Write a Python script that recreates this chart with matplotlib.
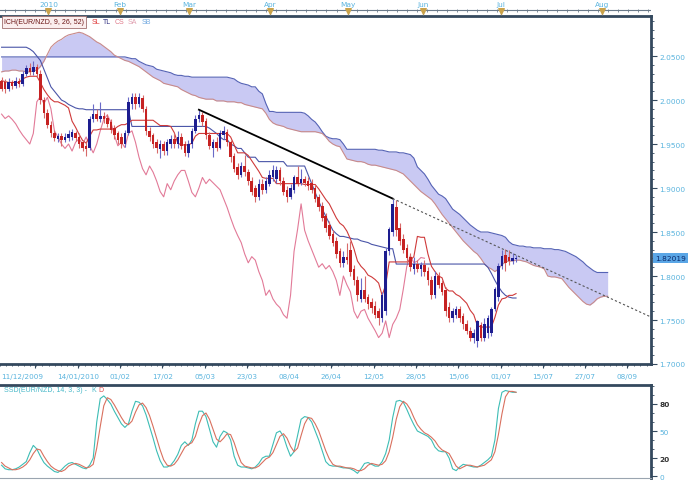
import numpy as np
import matplotlib.pyplot as plt
from matplotlib.ticker import MultipleLocator, FormatStrFormatter

# ---- daily EUR/NZD candles (bar 0 = left edge) ----
opens = [2.022, 2.020, 2.013, 2.020, 2.016, 2.022, 2.018, 2.030, 2.036, 2.032,
         2.038, 2.030, 2.000, 1.985, 1.972, 1.962, 1.956, 1.959, 1.955, 1.957,
         1.958, 1.962, 1.958, 1.952, 1.948, 1.945, 1.978, 1.984, 1.978, 1.982,
         1.980, 1.975, 1.968, 1.962, 1.958, 1.950, 1.962, 1.995, 2.004, 1.996,
         2.002, 1.990, 1.965, 1.960, 1.952, 1.944, 1.950, 1.942, 1.950, 1.956,
         1.950, 1.958, 1.950, 1.940, 1.950, 1.965, 1.978, 1.983, 1.976, 1.960,
         1.946, 1.952, 1.946, 1.960, 1.964, 1.952, 1.936, 1.924, 1.915, 1.925,
         1.918, 1.908, 1.900, 1.890, 1.905, 1.898, 1.905, 1.912, 1.910, 1.920,
         1.908, 1.898, 1.890, 1.898, 1.912, 1.906, 1.910, 1.908, 1.906, 1.900,
         1.890, 1.880, 1.868, 1.858, 1.848, 1.840, 1.828, 1.815, 1.822, 1.830,
         1.808, 1.796, 1.774, 1.784, 1.776, 1.770, 1.766, 1.760, 1.752, 1.760,
         1.828, 1.850, 1.878, 1.855, 1.842, 1.832, 1.822, 1.808, 1.814, 1.808,
         1.812, 1.806, 1.796, 1.778, 1.800, 1.792, 1.784, 1.765, 1.752, 1.756,
         1.762, 1.755, 1.746, 1.738, 1.730, 1.726, 1.744, 1.730, 1.735, 1.735,
         1.762, 1.776, 1.811, 1.824, 1.822, 1.817, 1.819]
highs = [2.026, 2.024, 2.025, 2.023, 2.026, 2.025, 2.033, 2.040, 2.042, 2.044,
         2.041, 2.034, 2.003, 1.990, 1.976, 1.966, 1.962, 1.963, 1.963, 1.966,
         1.967, 1.965, 1.962, 1.955, 1.952, 1.982, 1.996, 1.990, 1.998, 1.986,
         1.984, 1.978, 1.972, 1.965, 1.962, 1.966, 2.003, 2.008, 2.008, 2.008,
         2.006, 1.993, 1.969, 1.963, 1.956, 1.955, 1.954, 1.956, 1.960, 1.963,
         1.965, 1.962, 1.954, 1.955, 1.968, 1.983, 1.989, 1.986, 1.980, 1.964,
         1.956, 1.958, 1.966, 1.970, 1.967, 1.955, 1.940, 1.928, 1.930, 1.938,
         1.922, 1.912, 1.904, 1.910, 1.910, 1.912, 1.920, 1.926, 1.925, 1.924,
         1.912, 1.902, 1.905, 1.915, 1.925, 1.922, 1.914, 1.912, 1.910, 1.904,
         1.893, 1.884, 1.872, 1.862, 1.852, 1.844, 1.832, 1.828, 1.838, 1.840,
         1.812, 1.800, 1.798, 1.800, 1.780, 1.775, 1.772, 1.764, 1.782, 1.832,
         1.856, 1.888, 1.886, 1.860, 1.848, 1.836, 1.826, 1.822, 1.818, 1.816,
         1.818, 1.810, 1.800, 1.806, 1.805, 1.796, 1.788, 1.770, 1.764, 1.766,
         1.766, 1.758, 1.750, 1.742, 1.740, 1.750, 1.748, 1.752, 1.756, 1.765,
         1.788, 1.815, 1.830, 1.831, 1.830, 1.826, 1.824]
lows = [2.010, 2.008, 2.010, 2.012, 2.014, 2.015, 2.016, 2.027, 2.028, 2.029,
        2.026, 1.995, 1.980, 1.968, 1.958, 1.953, 1.952, 1.948, 1.952, 1.954,
        1.955, 1.953, 1.946, 1.942, 1.936, 1.943, 1.975, 1.976, 1.975, 1.974,
        1.969, 1.962, 1.956, 1.950, 1.946, 1.947, 1.960, 1.990, 1.990, 1.992,
        1.986, 1.960, 1.953, 1.946, 1.940, 1.934, 1.938, 1.938, 1.946, 1.946,
        1.946, 1.944, 1.936, 1.935, 1.946, 1.962, 1.975, 1.970, 1.956, 1.944,
        1.935, 1.942, 1.944, 1.956, 1.948, 1.930, 1.918, 1.910, 1.912, 1.914,
        1.904, 1.892, 1.884, 1.886, 1.893, 1.894, 1.902, 1.908, 1.906, 1.904,
        1.892, 1.884, 1.887, 1.894, 1.902, 1.903, 1.902, 1.898, 1.894, 1.884,
        1.874, 1.862, 1.850, 1.842, 1.834, 1.820, 1.810, 1.810, 1.814, 1.800,
        1.790, 1.772, 1.770, 1.770, 1.762, 1.758, 1.752, 1.744, 1.748, 1.756,
        1.824, 1.846, 1.846, 1.835, 1.826, 1.815, 1.806, 1.802, 1.804, 1.800,
        1.800, 1.790, 1.774, 1.775, 1.786, 1.778, 1.755, 1.748, 1.748, 1.752,
        1.748, 1.740, 1.734, 1.726, 1.724, 1.719, 1.726, 1.726, 1.730, 1.732,
        1.760, 1.772, 1.808, 1.806, 1.812, 1.814, 1.816]
closes = [2.013, 2.012, 2.020, 2.016, 2.022, 2.018, 2.030, 2.036, 2.032, 2.038,
          2.030, 2.000, 1.985, 1.972, 1.962, 1.957, 1.959, 1.955, 1.958, 1.961,
          1.964, 1.957, 1.950, 1.946, 1.944, 1.978, 1.984, 1.979, 1.982, 1.978,
          1.973, 1.966, 1.960, 1.955, 1.950, 1.962, 1.998, 2.004, 1.996, 2.003,
          1.990, 1.965, 1.958, 1.950, 1.945, 1.950, 1.942, 1.952, 1.956, 1.950,
          1.958, 1.948, 1.940, 1.950, 1.965, 1.978, 1.983, 1.975, 1.960, 1.948,
          1.952, 1.946, 1.962, 1.965, 1.952, 1.935, 1.922, 1.915, 1.925, 1.918,
          1.908, 1.896, 1.890, 1.905, 1.898, 1.908, 1.915, 1.920, 1.920, 1.908,
          1.895, 1.890, 1.900, 1.912, 1.905, 1.910, 1.906, 1.902, 1.898, 1.888,
          1.878, 1.866, 1.855, 1.846, 1.838, 1.825, 1.815, 1.822, 1.818, 1.805,
          1.795, 1.778, 1.784, 1.774, 1.768, 1.764, 1.756, 1.752, 1.778, 1.828,
          1.853, 1.882, 1.852, 1.840, 1.830, 1.820, 1.810, 1.814, 1.808, 1.812,
          1.805, 1.795, 1.778, 1.800, 1.790, 1.782, 1.760, 1.752, 1.760, 1.762,
          1.752, 1.745, 1.738, 1.730, 1.735, 1.749, 1.730, 1.745, 1.752, 1.762,
          1.785, 1.811, 1.823, 1.815, 1.817, 1.821, 1.8202]

# ---- Ichimoku lines ----
tenkan = [2.022, 2.021, 2.020, 2.020, 2.020, 2.020, 2.024, 2.026, 2.027, 2.027, 2.027,
          2.020, 2.012, 2.006, 2.001, 1.998, 1.998, 1.996, 1.994, 1.991, 1.976,
          1.969, 1.961, 1.954, 1.951, 1.959, 1.966, 1.966, 1.967, 1.967, 1.967,
          1.967, 1.967, 1.970, 1.972, 1.972, 1.974, 1.977, 1.977, 1.977, 1.977,
          1.977, 1.977, 1.977, 1.974, 1.971, 1.971, 1.971, 1.970, 1.963, 1.951,
          1.949, 1.949, 1.949, 1.951, 1.959, 1.962, 1.962, 1.962, 1.962, 1.962,
          1.962, 1.962, 1.962, 1.962, 1.958, 1.949, 1.940, 1.940, 1.940, 1.937,
          1.931, 1.925, 1.919, 1.912, 1.911, 1.911, 1.911, 1.905, 1.905, 1.905,
          1.905, 1.905, 1.905, 1.905, 1.905, 1.904, 1.904, 1.904, 1.904, 1.899,
          1.893, 1.887, 1.882, 1.874, 1.866, 1.860, 1.857, 1.851, 1.842, 1.831,
          1.817, 1.811, 1.807, 1.801, 1.799, 1.796, 1.792, 1.778, 1.790, 1.816,
          1.816, 1.816, 1.816, 1.816, 1.816, 1.818, 1.822, 1.845, 1.844, 1.844,
          1.825, 1.811, 1.805, 1.800, 1.798, 1.786, 1.783, 1.783, 1.779, 1.777,
          1.773, 1.769, 1.761, 1.756, 1.744, 1.742, 1.742, 1.742, 1.742, 1.753,
          1.767, 1.774, 1.775, 1.778, 1.778, 1.780]
kijun = ([2.060] * 8 +
         [2.058, 2.055, 2.050, 2.045, 2.035, 2.025, 2.015, 2.010, 2.005, 2.000,
          1.998, 1.995, 1.993, 1.991, 1.990, 1.990, 1.989] +
         [1.989] * 12 + [1.970] * 22 +
         [1.968, 1.965, 1.962, 1.958, 1.955, 1.955] +
         [1.950, 1.948, 1.945, 1.945, 1.940, 1.935, 1.935, 1.935] +
         [1.930] * 8 + [1.925] * 6 +
         [1.915, 1.905, 1.895, 1.885, 1.876, 1.868, 1.860, 1.852, 1.848, 1.845] +
         [1.845, 1.844, 1.843, 1.842, 1.842, 1.840, 1.839, 1.838, 1.836, 1.835,
          1.834, 1.833, 1.832, 1.831, 1.831] +
         [1.8136] * 26 +
         [1.810, 1.803, 1.795, 1.788, 1.782, 1.778, 1.776, 1.775, 1.775])
# cloud, plotted 26 bars ahead of the last candle
senkou_a = [2.032, 2.033, 2.033, 2.034, 2.034, 2.033, 2.033, 2.032, 2.032, 2.033,
            2.034, 2.038, 2.044,
            2.052, 2.060, 2.064, 2.067, 2.069, 2.072, 2.074, 2.075, 2.076, 2.077,
            2.076, 2.074, 2.072, 2.069, 2.066, 2.064, 2.061, 2.058, 2.055, 2.051, 2.049,
            2.047, 2.045, 2.044, 2.042, 2.040, 2.038, 2.035, 2.032, 2.029, 2.026,
            2.024, 2.022, 2.019, 2.018, 2.017, 2.016, 2.015, 2.012, 2.010, 2.008,
            2.006, 2.005, 2.003, 2.002, 2.001, 2.001, 2.001, 1.999, 1.999, 1.999, 1.998,
            1.998, 1.998, 1.997, 1.997, 1.995, 1.994, 1.993, 1.992, 1.991, 1.990,
            1.985, 1.978, 1.974, 1.972, 1.971, 1.970, 1.968, 1.967, 1.966, 1.965, 1.964,
            1.964, 1.964, 1.964, 1.964, 1.963, 1.962, 1.958, 1.953, 1.950, 1.948, 1.947,
            1.940, 1.933, 1.932, 1.931, 1.930, 1.930, 1.929, 1.927, 1.926, 1.926,
            1.925, 1.924, 1.923, 1.922, 1.921, 1.920, 1.918, 1.916, 1.912, 1.908,
            1.904, 1.900, 1.896, 1.893, 1.890, 1.887, 1.882, 1.876, 1.870, 1.865,
            1.860, 1.855, 1.850, 1.845, 1.840, 1.836, 1.832, 1.828, 1.825, 1.820,
            1.814, 1.810, 1.808, 1.805, 1.808, 1.813, 1.816, 1.817, 1.817, 1.818,
            1.818, 1.817, 1.816, 1.814, 1.812, 1.811, 1.810, 1.808, 1.800, 1.799,
            1.799, 1.798, 1.797, 1.792, 1.787, 1.783, 1.779, 1.775, 1.771, 1.768,
            1.767, 1.770, 1.774, 1.776, 1.777, 1.777]
senkou_b = ([2.049] * 36 +
            [2.048, 2.047, 2.047, 2.044, 2.042, 2.040, 2.039, 2.038, 2.035, 2.034,
             2.033, 2.032, 2.031, 2.029, 2.028, 2.028, 2.027, 2.027] +
            [2.026] * 11 +
            [2.025, 2.024, 2.021, 2.019, 2.018, 2.017, 2.015, 2.015, 2.010, 2.007,
             1.996, 1.987, 1.987] +
            [1.986] * 8 +
            [1.985, 1.982, 1.978, 1.975, 1.970, 1.964, 1.959, 1.957, 1.956, 1.956,
             1.955, 1.950] +
            [1.944] * 9 +
            [1.943, 1.943, 1.942, 1.941, 1.941, 1.941, 1.940, 1.940, 1.939, 1.938,
             1.934, 1.924, 1.920, 1.916, 1.910, 1.903, 1.898, 1.893, 1.891, 1.888,
             1.882, 1.876, 1.873, 1.870, 1.866, 1.862, 1.858, 1.855, 1.852, 1.850,
             1.850, 1.850, 1.849, 1.848, 1.847, 1.846, 1.844, 1.839, 1.836, 1.835,
             1.834, 1.834, 1.833, 1.833, 1.832, 1.832, 1.832, 1.831, 1.831, 1.831,
             1.830, 1.830, 1.829, 1.828, 1.826, 1.824, 1.822, 1.819, 1.816, 1.812,
             1.809, 1.806, 1.804, 1.804, 1.804, 1.804])

# trend line drawn on the chart (bar, price)
trend_x = [56, 111]
trend_y = [1.989, 1.888]

# ---- slow stochastic (14, 3, 3) ----
stoch_k = [12, 8, 7, 7, 8, 10, 13, 16, 26, 34,
           30, 22, 15, 11, 8, 5, 4, 7, 11, 14,
           15, 13, 11, 9, 8, 12, 20, 60, 86, 89,
           85, 80, 72, 65, 58, 54, 58, 72, 83, 82,
           78, 68, 55, 42, 28, 17, 10, 10, 12, 17,
           24, 34, 38, 34, 40, 58, 72, 72, 66, 52,
           38, 32, 44, 50, 48, 40, 22, 12, 10, 10,
           9, 8, 10, 14, 20, 22, 22, 35, 48, 50,
           44, 32, 22, 27, 45, 63, 66, 65, 60, 50,
           40, 28, 16, 12, 11, 11, 10, 9, 9, 8,
           6, 3, 8, 14, 15, 13, 11, 11, 16, 25,
           40, 65, 83, 84, 82, 74, 65, 57, 50, 48,
           46, 44, 40, 32, 28, 27, 27, 20, 8, 6,
           10, 13, 12, 11, 10, 10, 12, 15, 18, 22,
           40, 75, 93, 95, 94, 93, 93]
stoch_d = [15, 11, 9, 7, 7, 8, 10, 13, 18, 25,
           30, 29, 22, 16, 11, 8, 6, 5, 7, 11,
           13, 14, 13, 11, 9, 10, 13, 31, 55, 78,
           87, 85, 79, 72, 65, 59, 57, 61, 71, 79,
           81, 76, 67, 55, 42, 29, 18, 12, 11, 13,
           18, 25, 32, 35, 37, 44, 57, 67, 70, 63,
           52, 41, 38, 42, 47, 46, 37, 25, 15, 11,
           10, 9, 9, 11, 15, 19, 21, 26, 35, 44,
           47, 42, 33, 27, 31, 45, 58, 65, 64, 58,
           50, 39, 28, 19, 13, 11, 11, 10, 9, 9,
           8, 6, 6, 8, 12, 14, 13, 12, 13, 17,
           27, 43, 63, 77, 83, 80, 74, 65, 57, 52,
           48, 46, 43, 39, 33, 29, 27, 25, 18, 11,
           8, 10, 12, 12, 11, 10, 11, 12, 15, 18,
           27, 46, 69, 88, 94, 94, 93]

# ---- time axis labels ----
date_ticks = [9.6, 21.6, 33.6, 45.6, 57.6, 69.6, 81.6, 93.6, 105.6, 117.6,
              129.6, 141.6, 153.6, 165.6, 177.6]
date_labels = ['11/12/2009', '14/01/2010', '01/02', '17/02', '05/03', '23/03',
               '08/04', '26/04', '12/05', '28/05', '15/06', '01/07', '15/07',
               '27/07', '08/09']
month_bars = [13.3, 33.5, 53.3, 76.3, 98.4, 119.7, 141.6, 170.5]
month_labels = ['2010', 'Feb', 'Mar', 'Apr', 'May', 'Jun', 'Jul', 'Aug']
last_price = '1.82019'

# ---- colours ----
FRAME = '#34495e'
LABEL = '#5ab4de'
UP, DOWN = '#1d1d8f', '#c62222'
UP_WICK, DOWN_WICK = '#6a6ac8', '#d86a6a'
SMALL = ['Liberation Sans', 'DejaVu Sans']

W, H = 690, 481
XLIM = (-0.45, 184.3)
fig = plt.figure(figsize=(W / 100, H / 100), dpi=100)


def px_box(x0, y0, x1, y1):
    return [x0 / W, 1 - y1 / H, (x1 - x0) / W, (y1 - y0) / H]


ax = fig.add_axes(px_box(0, 17, 651, 365))
axs = fig.add_axes(px_box(0, 386, 651, 479))
axt = fig.add_axes(px_box(0, 0, 651, 17))

bars = np.arange(len(closes))
ahead = np.arange(len(senkou_a))
o, h, l, c = map(np.array, (opens, highs, lows, closes))
up = c >= o

# cloud
ax.fill_between(ahead, senkou_a, senkou_b, color='#c9c9f3', lw=0, zorder=1)
ax.plot(ahead, senkou_b, color='#5563b5', lw=0.8, zorder=2)
ax.plot(ahead, senkou_a, color='#c88a8a', lw=0.8, zorder=2)

# chikou = close shifted 26 bars back
ax.plot(bars[:-26], c[26:], color='#e27a98', lw=0.8, zorder=2)
ax.plot(bars, kijun, color='#4a55a8', lw=0.8, zorder=3)
ax.plot(bars, tenkan, color='#cf3a3a', lw=0.8, zorder=3)

# candles
ax.vlines(bars, l, h, colors=np.where(up, UP_WICK, DOWN_WICK), lw=0.8, zorder=4)
ax.bar(bars, np.maximum(np.abs(c - o), 0.0012), bottom=np.minimum(o, c),
       width=0.72, color=np.where(up, UP, DOWN), lw=0, zorder=5)

# trend line and its dotted extension
slope = (trend_y[1] - trend_y[0]) / (trend_x[1] - trend_x[0])
ax.plot(trend_x, trend_y, color='black', lw=1.3, zorder=6)
ax.plot([trend_x[1], XLIM[1]], [trend_y[1], trend_y[1] + slope * (XLIM[1] - trend_x[1])],
        color='#555555', lw=0.8, ls=(0, (2, 2)), zorder=6)

ax.set_xlim(*XLIM)
ax.set_ylim(1.70, 2.0955)
ax.yaxis.tick_right()
ax.set_yticks(np.arange(1.70, 2.051, 0.05))
ax.yaxis.set_major_formatter(FormatStrFormatter('%.4f'))
ax.yaxis.set_minor_locator(MultipleLocator(0.01))
ax.tick_params(axis='y', which='major', direction='out', length=4, width=0.8,
               color=FRAME, labelcolor=LABEL, labelsize=5.3, pad=2)
ax.tick_params(axis='y', which='minor', direction='out', length=2, width=0.6, color=FRAME)
ax.set_xticks(date_ticks)
ax.set_xticklabels([''] + date_labels[1:])
ax.set_xticks(np.arange(-0.4, 184, 12 / 7), minor=True)
ax.tick_params(axis='x', which='major', direction='out', length=3, width=0.8,
               color=FRAME, labelcolor=LABEL, labelsize=5.2, pad=3.5)
ax.tick_params(axis='x', which='minor', direction='out', length=1.5, width=0.6, color=FRAME)
for side in ('top', 'right', 'bottom'):
    ax.spines[side].set_color(FRAME)
    ax.spines[side].set_linewidth(2)
ax.spines['left'].set_visible(False)
fig.text(1 / W, 1 - 377.5 / H, date_labels[0], fontsize=5.2, color=LABEL,
         ha='left', va='center')

# stochastic panel
axs.plot(bars, stoch_k, color='#3dbdb5', lw=0.8)
axs.plot(bars, stoch_d, color='#d9705e', lw=0.8)
axs.set_xlim(*XLIM)
axs.set_ylim(-2.2, 101.1)
axs.yaxis.tick_right()
axs.set_yticks([0, 20, 50, 80])
axs.yaxis.set_minor_locator(MultipleLocator(10))
axs.tick_params(axis='y', which='major', direction='out', length=4, width=0.8,
                color=FRAME, labelcolor=LABEL, labelsize=5.3, pad=2)
axs.tick_params(axis='y', which='minor', direction='out', length=2, width=0.6, color=FRAME)
for lab in axs.get_yticklabels():
    if lab.get_text() in ('20', '80'):
        lab.set_color('#333333')
        lab.set_fontweight('bold')
axs.tick_params(axis='x', which='both', bottom=False, labelbottom=False)
for side in ('top', 'right'):
    axs.spines[side].set_color(FRAME)
    axs.spines[side].set_linewidth(2)
axs.spines['bottom'].set_color('#9aa5b0')
axs.spines['left'].set_visible(False)

# month strip on top
axt.set_xlim(*XLIM)
axt.set_ylim(17, 0)
axt.axis('off')
axt.axhline(11, color='#6b7b8b', lw=0.8)
axt.vlines(np.arange(1, 184, 2.85), 9.5, 12.5, color='#6b7b8b', lw=0.6)
axt.vlines(month_bars, 10, 16, color='#6b7b8b', lw=0.8)
axt.scatter(month_bars, [12] * len(month_bars), marker='v', s=16, color='#c9a24a', zorder=3)
for b, lab in zip(month_bars, month_labels):
    axt.text(b, 5, lab, ha='center', va='center', fontsize=5.3, color=LABEL)

# indicator legends
fig.text(4 / W, 1 - 23 / H, 'ICH(EUR/NZD, 9, 26, 52)', fontsize=5, family=SMALL,
         color='#6b1515', va='center',
         bbox=dict(boxstyle='square,pad=0.3', fc='#fbeeee', ec='#a07070', lw=0.6))
for x, t, col in [(92, 'SL', '#e04040'), (103, 'TL', '#303080'), (115, 'CS', '#e07a8a'),
                  (128, 'SA', '#e0a0b0'), (142, 'SB', '#70a8e0')]:
    fig.text(x / W, 1 - 23 / H, t, fontsize=5, family=SMALL, color=col, va='center')
fig.text(4 / W, 1 - 391 / H, 'SSD(EUR/NZD, 14, 3, 3) -', fontsize=5, family=SMALL,
         color='#48b8c8', va='center')
fig.text(91 / W, 1 - 391 / H, 'K', fontsize=5, family=SMALL, color='#48b8c8', va='center')
fig.text(98 / W, 1 - 391 / H, 'D', fontsize=5, family=SMALL, color='#e05050', va='center')

# last price tag
ax.annotate(last_price, xy=(1.0, closes[-1]), xycoords=('axes fraction', 'data'),
            xytext=(3, 0), textcoords='offset points', fontsize=5.3, color='#0b2a6b',
            va='center', ha='left',
            bbox=dict(boxstyle='square,pad=0.25', fc='#5aa6e6', ec='none'))

fig.savefig('out.png', dpi=100)
